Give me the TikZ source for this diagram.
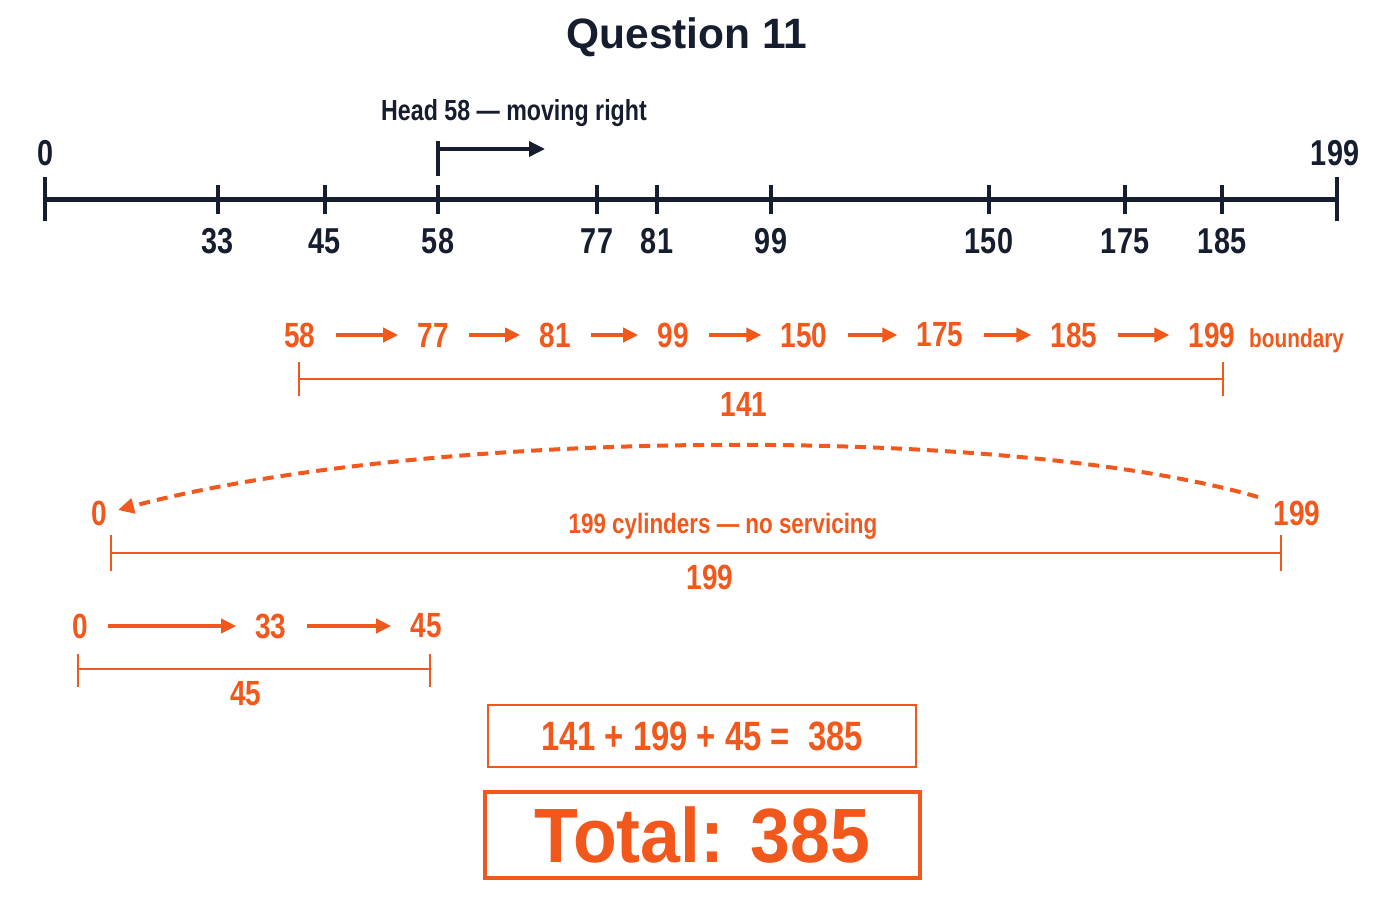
\documentclass[tikz,border=0pt]{standalone}
\usepackage{fontspec}
\setmainfont{Liberation Sans}
\newfontfamily\nar[FakeStretch=0.8]{Liberation Sans}
\newfontfamily\totf[FakeStretch=0.93]{Liberation Sans}
\usetikzlibrary{arrows.meta}
\definecolor{navy}{HTML}{151D2E}
\definecolor{org}{HTML}{F2581C}
\begin{document}
\begin{tikzpicture}[x=1pt,y=-1pt,
  axlab/.style={navy,inner sep=0,font=\nar\bfseries\fontsize{36}{36}\selectfont},
  olab/.style={org,inner sep=0,font=\nar\bfseries\fontsize{35}{35}\selectfont},
  oarr/.style={org,line width=3.5,-{Triangle[length=15pt,width=14pt]},shorten <=20pt,shorten >=19pt},
  narr/.style={navy,line width=3.5,-{Triangle[length=16pt,width=15pt]}},
  brk/.style={org,line width=2.5},
  tickmk/.style={navy,line width=4},
 ]
\useasboundingbox[fill=white] (0,0) rectangle (1400,900);
% title
\node[navy,inner sep=0,anchor=base,font=\bfseries\fontsize{42.5}{42.5}\selectfont] (title) at (687,48) {Question 11};
% axis
\draw[navy,line width=5] (45,199) -- (1337,199);
\draw[tickmk] (45,177) -- (45,221);
\draw[tickmk] (1337,177) -- (1337,221);
\node[axlab] (a0) at (46,153) {0};
\node[axlab] (a199) at (1335,153) {199};
\foreach \x/\t in {218/33,325/45,438/58,597/77,657/81,771/99,989/150,1125/175,1222/185}{
  \draw[tickmk] (\x,185) -- (\x,214);
  \node[axlab] (a\t) at (\x,241) {\t};
}
% head marker
\node[navy,inner sep=0,anchor=base,font=\nar\bfseries\fontsize{29}{29}\selectfont] (head) at (514,120) {Head 58 — moving right};
\coordinate (hmTop) at (438,141);
\coordinate (hmBot) at (438,176);
\coordinate (hmEnd) at (545,149);
\draw[navy,line width=3.5] (hmTop) -- (hmBot);
\draw[narr] (hmTop |- hmEnd) -- (hmEnd);
% scan right
\node[olab] (s58) at (300,335) {58};
\node[olab] (s77) at (433,335) {77};
\node[olab] (s81) at (555,335) {81};
\node[olab] (s99) at (673,335) {99};
\node[olab] (s150) at (804,335) {150};
\node[olab] (s175) at (940,335) {175};
\node[olab] (s185) at (1074,335) {185};
\node[olab] (s199) at (1212,335) {199};
\node[org,inner sep=0,anchor=base west,font=\nar\bfseries\fontsize{26}{26}\selectfont] (bnd) at (1249,347) {boundary};
\draw[oarr] (s58) -- (s77);
\draw[oarr] (s77) -- (s81);
\draw[oarr] (s81) -- (s99);
\draw[oarr] (s99) -- (s150);
\draw[oarr] (s150) -- (s175);
\draw[oarr] (s175) -- (s185);
\draw[oarr] (s185) -- (s199);
\draw[brk] (299,379) -- (1223,379);
\draw[brk] (299,362) -- (299,396);
\draw[brk] (1223,362) -- (1223,396);
\node[olab] (d141) at (744,404) {141};
% jump
\node[olab] (j0) at (99,513) {0};
\node[olab] (j199) at (1297,513) {199};
\coordinate (arcS) at (1258,497);
\coordinate (arcE) at (118,510);
\draw[org,line width=4,dash pattern=on 11pt off 7pt,-{Triangle[length=16pt,width=15pt]}]
  (arcS) .. controls (1010,425) and (430,427) .. (arcE);
\node[org,inner sep=0,anchor=base,font=\nar\bfseries\fontsize{28}{28}\selectfont] (cyl) at (723,533) {199 cylinders — no servicing};
\draw[brk] (111,553) -- (1281,553);
\draw[brk] (111,535) -- (111,571);
\draw[brk] (1281,535) -- (1281,571);
\node[olab] (d199) at (710,577) {199};
% scan up from 0
\node[olab] (u0) at (80,626) {0};
\node[olab] (u33) at (271,626) {33};
\node[olab] (u45) at (426,626) {45};
\draw[oarr] (u0) -- (u33);
\draw[oarr] (u33) -- (u45);
\draw[brk] (78,669) -- (430,669);
\draw[brk] (78,654) -- (78,687);
\draw[brk] (430,654) -- (430,687);
\node[olab] (d45) at (246,694) {45};
% sums
\node[org,draw=org,line width=2.5,inner sep=0,minimum width=428pt,minimum height=62pt,font=\nar\bfseries\fontsize{41}{41}\selectfont] (sum) at (702,736) {141 + 199 + 45 = \ 385};
\node[org,draw=org,line width=3.5,inner sep=0,minimum width=435pt,minimum height=86pt,font=\totf\bfseries\fontsize{77}{77}\selectfont] (tot) at (702.5,835) {Total: 385};
\end{tikzpicture}
\end{document}
